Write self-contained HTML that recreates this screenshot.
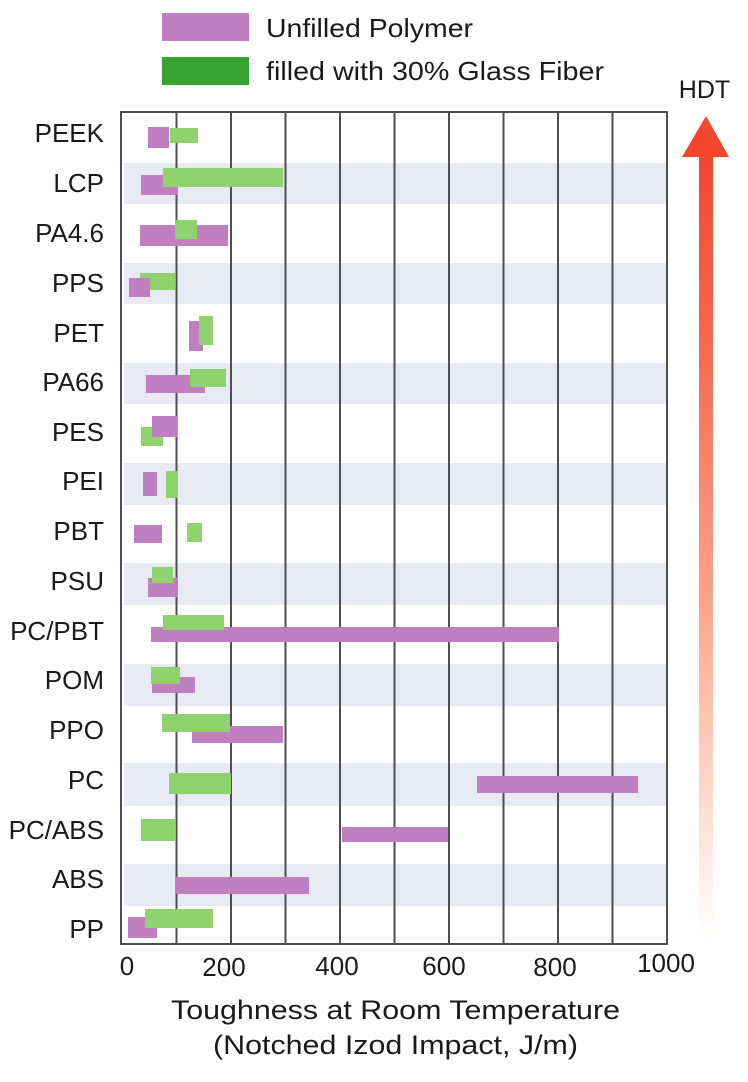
<!DOCTYPE html>
<html>
<head>
<meta charset="utf-8">
<style>
  html,body{margin:0;padding:0;background:#ffffff;}
  svg{display:block;}
  text{font-family:"Liberation Sans",Arial,sans-serif;fill:#1a1a1a;}
</style>
</head>
<body>
<svg width="748" height="1082" viewBox="0 0 748 1082" xmlns="http://www.w3.org/2000/svg">
  <defs>
    <linearGradient id="hdt" gradientUnits="userSpaceOnUse" x1="0" y1="150" x2="0" y2="940">
      <stop offset="0" stop-color="#f2462b"/>
      <stop offset="0.25" stop-color="#f66a4e"/>
      <stop offset="0.57" stop-color="#fca487"/>
      <stop offset="0.8" stop-color="#fed6c8"/>
      <stop offset="1" stop-color="#ffffff"/>
    </linearGradient>
  </defs>
  <rect x="0" y="0" width="748" height="1082" fill="#ffffff"/>

  <!-- Legend -->
  <rect x="162" y="13" width="87" height="28" fill="#bf7fc1"/>
  <rect x="162" y="57" width="87" height="28" fill="#36a332"/>
  <text x="266" y="37" font-size="26" textLength="207" lengthAdjust="spacingAndGlyphs">Unfilled Polymer</text>
  <text x="266" y="80" font-size="26" textLength="338" lengthAdjust="spacingAndGlyphs">filled with 30% Glass Fiber</text>

  <!-- HDT arrow -->
  <text x="704.5" y="98" font-size="25" text-anchor="middle">HDT</text>
  <rect x="699" y="154" width="14" height="784" fill="url(#hdt)"/>
  <polygon points="706,116 729,157 682,157" fill="#f2472c"/>

  <!-- bands -->
  <g fill="#e7e9f3">
    <rect x="124" y="163" width="543" height="41"/>
    <rect x="124" y="263" width="543" height="41"/>
    <rect x="124" y="363" width="543" height="41"/>
    <rect x="124" y="463" width="543" height="42"/>
    <rect x="124" y="563" width="543" height="42"/>
    <rect x="124" y="664" width="543" height="42"/>
    <rect x="124" y="763" width="543" height="43"/>
    <rect x="124" y="864" width="543" height="42"/>
  </g>

  <!-- grid lines -->
  <g stroke="#4f4f4f" stroke-width="2">
    <line x1="176.5" y1="112" x2="176.5" y2="944"/>
    <line x1="231" y1="112" x2="231" y2="944"/>
    <line x1="285.5" y1="112" x2="285.5" y2="944"/>
    <line x1="340" y1="112" x2="340" y2="944"/>
    <line x1="394.5" y1="112" x2="394.5" y2="944"/>
    <line x1="449" y1="112" x2="449" y2="944"/>
    <line x1="503.5" y1="112" x2="503.5" y2="944"/>
    <line x1="558" y1="112" x2="558" y2="944"/>
    <line x1="612.5" y1="112" x2="612.5" y2="944"/>
  </g>

  <!-- bars -->
  <g>
    <!-- PEEK -->
    <rect x="148" y="127" width="21" height="21" fill="#bf7fc1"/>
    <rect x="170" y="128" width="28" height="15" fill="#8fd36f"/>
    <!-- LCP -->
    <rect x="141" y="175" width="36" height="20" fill="#bf7fc1"/>
    <rect x="163" y="168" width="120" height="19" fill="#8fd36f"/>
    <!-- PA4.6 -->
    <rect x="140" y="225" width="88" height="21" fill="#bf7fc1"/>
    <rect x="175" y="220" width="22" height="19" fill="#8fd36f"/>
    <!-- PPS -->
    <rect x="140" y="273" width="35" height="17" fill="#8fd36f"/>
    <rect x="129" y="278" width="21" height="19" fill="#bf7fc1"/>
    <!-- PET -->
    <rect x="189" y="321" width="14" height="30" fill="#bf7fc1"/>
    <rect x="199" y="316" width="14" height="29" fill="#8fd36f"/>
    <!-- PA66 -->
    <rect x="146" y="375" width="59" height="18" fill="#bf7fc1"/>
    <rect x="190" y="369" width="36" height="18" fill="#8fd36f"/>
    <!-- PES -->
    <rect x="141" y="427" width="22" height="19" fill="#8fd36f"/>
    <rect x="152" y="416" width="25" height="21" fill="#bf7fc1"/>
    <!-- PEI -->
    <rect x="143" y="472" width="14" height="24" fill="#bf7fc1"/>
    <rect x="166" y="471" width="12" height="27" fill="#8fd36f"/>
    <!-- PBT -->
    <rect x="134" y="525" width="28" height="18" fill="#bf7fc1"/>
    <rect x="187" y="523" width="15" height="19" fill="#8fd36f"/>
    <!-- PSU -->
    <rect x="148" y="578" width="29" height="19" fill="#bf7fc1"/>
    <rect x="152" y="567" width="21" height="16" fill="#8fd36f"/>
    <!-- PC/PBT -->
    <rect x="151" y="627" width="408" height="15" fill="#bf7fc1"/>
    <rect x="163" y="615" width="61" height="15" fill="#8fd36f"/>
    <!-- POM -->
    <rect x="152" y="677" width="43" height="16" fill="#bf7fc1"/>
    <rect x="151" y="667" width="29" height="17" fill="#8fd36f"/>
    <!-- PPO -->
    <rect x="192" y="726" width="91" height="17" fill="#bf7fc1"/>
    <rect x="162" y="714" width="68" height="18" fill="#8fd36f"/>
    <!-- PC -->
    <rect x="477" y="776" width="161" height="17" fill="#bf7fc1"/>
    <rect x="169" y="773" width="62" height="21" fill="#8fd36f"/>
    <!-- PC/ABS -->
    <rect x="342" y="827" width="106" height="15" fill="#bf7fc1"/>
    <rect x="141" y="819" width="34" height="22" fill="#8fd36f"/>
    <!-- ABS -->
    <rect x="175" y="877" width="134" height="17" fill="#bf7fc1"/>
    <!-- PP -->
    <rect x="128" y="917" width="29" height="21" fill="#bf7fc1"/>
    <rect x="145" y="909" width="68" height="19" fill="#8fd36f"/>
  </g>

  <!-- border -->
  <rect x="121" y="112" width="546" height="832" fill="none" stroke="#4f4f4f" stroke-width="2"/>

  <!-- row labels -->
  <g font-size="26" text-anchor="end">
    <text x="104" y="142">PEEK</text>
    <text x="104" y="192">LCP</text>
    <text x="104" y="242">PA4.6</text>
    <text x="104" y="292">PPS</text>
    <text x="104" y="342">PET</text>
    <text x="104" y="391">PA66</text>
    <text x="104" y="441">PES</text>
    <text x="104" y="490">PEI</text>
    <text x="104" y="540">PBT</text>
    <text x="104" y="590">PSU</text>
    <text x="104" y="640">PC/PBT</text>
    <text x="104" y="689">POM</text>
    <text x="104" y="739">PPO</text>
    <text x="104" y="789">PC</text>
    <text x="104" y="839">PC/ABS</text>
    <text x="104" y="888">ABS</text>
    <text x="104" y="938">PP</text>
  </g>

  <!-- tick labels -->
  <g font-size="26" text-anchor="middle">
    <text x="127" y="975">0</text>
    <text x="224" y="976">200</text>
    <text x="337" y="975">400</text>
    <text x="444" y="975">600</text>
    <text x="555" y="976">800</text>
    <text x="666" y="972">1000</text>
  </g>

  <!-- axis title -->
  <text x="395.5" y="1019" font-size="27" text-anchor="middle" textLength="449" lengthAdjust="spacingAndGlyphs">Toughness at Room Temperature</text>
  <text x="395.5" y="1054" font-size="27" text-anchor="middle" textLength="365" lengthAdjust="spacingAndGlyphs">(Notched Izod Impact, J/m)</text>
</svg>
</body>
</html>
